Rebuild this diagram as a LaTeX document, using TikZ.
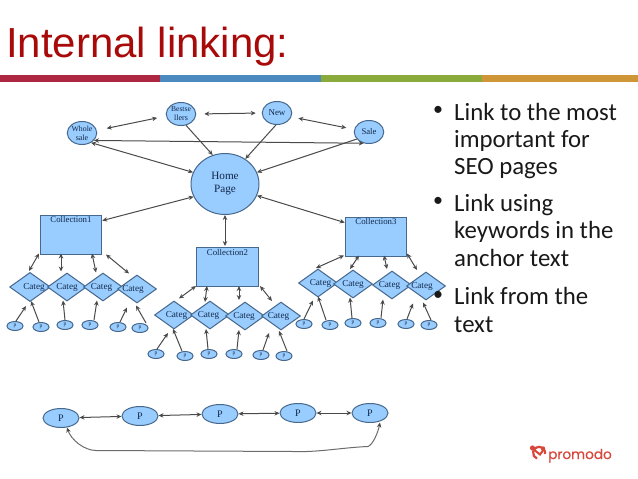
\documentclass[tikz,border=0pt]{standalone}
\usepackage{fontspec}
\setmainfont{Liberation Serif}
\newfontfamily\titlefont{Liberation Sans}
\newfontfamily\bodyfont{Carlito}
\newfontfamily\logofont[FakeBold=0.3]{Poppins}
\usetikzlibrary{shapes.geometric,arrows.meta}
\definecolor{nodefill}{HTML}{99CCFF}
\definecolor{nodeline}{HTML}{46688C}
\definecolor{nodetext}{HTML}{12294A}
\definecolor{arrowgray}{HTML}{4A4A4A}
\definecolor{titlered}{HTML}{A80A0A}
\definecolor{logored}{HTML}{D8473A}
\tikzset{
  base/.style={fill=nodefill,draw=nodeline,line width=1pt,text=nodetext,inner sep=0pt,align=center},
  bigell/.style={base,ellipse,minimum width=29.5pt,minimum height=23pt,font=\fontsize{8}{9}\selectfont},
  collbox/.style={base,rectangle,minimum width=61.5pt,minimum height=39pt},
  colllabel/.style={anchor=north,inner sep=2pt,text=nodetext,font=\fontsize{8.8}{10}\selectfont},
  catbox/.style={base,diamond,shape aspect=1.4,minimum width=39pt,minimum height=28pt,font=\fontsize{9.2}{10}\selectfont},
  smallp/.style={base,ellipse,minimum width=16pt,minimum height=9pt,font=\fontsize{5.5}{6}\selectfont},
  pagep/.style={base,ellipse,minimum width=36pt,minimum height=19pt,font=\fontsize{10}{11}\selectfont},
  both/.style={draw=arrowgray,line width=1pt,{Stealth[length=5pt,width=4.5pt]}-{Stealth[length=5pt,width=4.5pt]}},
  one/.style={draw=arrowgray,line width=1pt,-{Stealth[length=5pt,width=4.5pt]}},
  bullettext/.style={anchor=base west,inner sep=0pt,align=left,text=black!90,font=\bodyfont\fontsize{24.8}{27.2}\selectfont},
  bulletdot/.style={anchor=base west,inner sep=0pt,text=black!90,font=\bodyfont\fontsize{20}{22}\selectfont},
}
\begin{document}
\begin{tikzpicture}[x=1pt,y=-1pt]
\useasboundingbox (0,0) rectangle (638,479);
\fill[white] (0,0) rectangle (638,479);
% title and bar
\node[anchor=base west,inner sep=0pt,text=titlered,font=\titlefont\fontsize{42}{46}\selectfont] (title) at (6,57) {Internal linking:};
\fill[fill={rgb,255:red,174;green,39;blue,66}] (0,75) rectangle (160,81.5);
\fill[fill={rgb,255:red,74;green,138;blue,191}] (160,75) rectangle (321,81.5);
\fill[fill={rgb,255:red,138;green,171;blue,60}] (321,75) rectangle (482,81.5);
\fill[fill={rgb,255:red,206;green,150;blue,55}] (482,75) rectangle (638,81.5);
% top nodes
\node[bigell] (whole) at (82,133) {\fontsize{7.8}{8.8}\selectfont Whole\\sale};
\node[bigell] (best) at (181,114) {\fontsize{7.6}{8.6}\selectfont Bestse\\llers};
\node[bigell] (new) at (277,113) {\fontsize{9}{10}\selectfont New};
\node[bigell] (sale) at (369,132) {\fontsize{8.7}{10}\selectfont Sale};
\node[base,ellipse,minimum width=68pt,minimum height=61pt,font=\fontsize{11.2}{13}\selectfont] (home) at (225,184) {Home\\Page};
% collections
\node[collbox,label={[colllabel]north:Collection1}] (c1) at (71,234.5) {};
\node[collbox,label={[colllabel]north:Collection2}] (c2) at (227.5,267) {};
\node[collbox,label={[colllabel]north:Collection3}] (c3) at (376,236.5) {};
% categories row 1
\node[catbox] (a1) at (30,287) {\hspace*{8pt}Categ};
\node[catbox] (a2) at (67,287) {Categ};
\node[catbox] (a3) at (103,287) {\hspace*{-3pt}Categ};
\node[catbox] (a4) at (137,289) {\hspace*{-8pt}Categ};
% categories row 2
\node[catbox] (e1) at (174,315) {\hspace*{5pt}Categ};
\node[catbox] (e2) at (210,315) {\hspace*{-3pt}Categ};
\node[catbox] (e3) at (245,316) {\hspace*{-2pt}Categ};
\node[catbox] (e4) at (281,316) {\hspace*{-5pt}Categ};
% categories row 3
\node[catbox] (g1) at (318,283) {\hspace*{5pt}Categ};
\node[catbox] (g2) at (353,284) {Categ};
\node[catbox] (g3) at (392,285) {\hspace*{-5pt}Categ};
\node[catbox] (g4) at (426,286) {\hspace*{-8pt}Categ};
% bullets, above the diagram as in the reference
\node[bulletdot] (d1) at (433,115.6) {•};
\node[bullettext] (b1) at (454,174.5) {Link to the most\\important for\\SEO pages};
\node[bulletdot] (d2) at (433,206.6) {•};
\node[bullettext] (b2) at (454,266) {Link using\\keywords in the\\anchor text};
\node[bulletdot] (d3) at (433,300.6) {•};
\node[bullettext] (b3) at (454,332) {Link from the\\text};
% small p, row 1
\node[smallp] (p11) at (15,326) {p};
\node[smallp] (p12) at (41,327) {p};
\node[smallp] (p13) at (65,325) {p};
\node[smallp] (p14) at (90,325) {p};
\node[smallp] (p15) at (118,327) {p};
\node[smallp] (p16) at (140,328) {p};
% small p, row 2
\node[smallp] (p21) at (156,354) {p};
\node[smallp] (p22) at (185,356) {p};
\node[smallp] (p23) at (209,354) {p};
\node[smallp] (p24) at (234,354) {p};
\node[smallp] (p25) at (261,355) {p};
\node[smallp] (p26) at (284,356) {p};
% small p, row 3
\node[smallp] (p31) at (304,324) {p};
\node[smallp] (p32) at (330,325) {p};
\node[smallp] (p33) at (353,323) {p};
\node[smallp] (p34) at (378,323) {p};
\node[smallp] (p35) at (406,324) {p};
\node[smallp] (p36) at (429,325) {p};
% bottom row
\node[pagep] (P1) at (61,418) {P};
\node[pagep] (P2) at (140,416) {P};
\node[pagep] (P3) at (220,414) {P};
\node[pagep] (P4) at (298,413) {P};
\node[pagep] (P5) at (370,413) {P};
% top arrows
\draw[both,shorten <=10pt,shorten >=9pt] (whole.10) -- (best.188);
\draw[both,shorten <=8pt,shorten >=6pt] (best.east) -- (new.west);
\draw[both,shorten <=7pt,shorten >=8pt] (new.-15) -- (sale.170);
\draw[both] (whole.-32) -- (sale.245);
\draw[both] (whole.-47) -- (home.160);
\draw[one] (best.-66) -- (home.113);
\draw[one] (new.-95) -- (home.51);
\draw[one] (sale.210) -- (home.20);
\draw[both] (home.-20) -- (c3.156.5);
\draw[both] (home.202) -- (c1.24);
\draw[both] (home.270) -- ([xshift=-2.5pt,yshift=1pt]c2.north);
% collection 1
\draw[both] ([xshift=-32pt,yshift=1pt]c1.south) -- ([xshift=-1pt,yshift=1pt]a1.north);
\draw[both] ([xshift=-10pt,yshift=1pt]c1.south) -- ([xshift=-6pt,yshift=1pt]a2.north);
\draw[both] ([xshift=21pt,yshift=1pt]c1.south) -- ([xshift=-7pt]a3.north);
\draw[both] ([xshift=35pt]c1.south) -- ([xshift=-8pt,yshift=1pt]a4.north);
% collection 2
\draw[both] ([xshift=-31.5pt,yshift=1pt]c2.south) -- ([xshift=5pt,yshift=2pt]e1.north);
\draw[both] ([xshift=-20.5pt,yshift=1pt]c2.south) -- ([xshift=-5pt,yshift=-1.5pt]e2.north);
\draw[both] ([xshift=11.5pt,yshift=1pt]c2.south) -- ([xshift=-6pt,yshift=1.5pt]e3.north);
\draw[both] ([xshift=32.5pt,yshift=1pt]c2.south) -- ([xshift=-9pt,yshift=.5pt]e4.north);
% collection 3
\draw[both] ([xshift=-32pt,yshift=1pt]c3.south) -- ([xshift=-2pt,yshift=.5pt]g1.north);
\draw[both] ([xshift=-17pt,yshift=1pt]c3.south) -- ([xshift=-3pt,yshift=.5pt]g2.north);
\draw[both] ([xshift=8pt,yshift=1pt]c3.south) -- ([xshift=-5pt,yshift=1.5pt]g3.north);
\draw[both] ([xshift=31pt,yshift=3pt]c3.south) -- ([xshift=-9pt,yshift=1.5pt]g4.north);
% p to categ, row 1
\draw[one] ([xshift=1pt]p11.north) -- ([xshift=-4pt,yshift=-4pt]a1.south);
\draw[one] ([xshift=-2pt]p12.north) -- ([xshift=1pt,yshift=1pt]a1.south);
\draw[one] (p13.north) -- ([xshift=-4pt,yshift=1pt]a2.south);
\draw[one] ([xshift=4pt]p14.north) -- ([xshift=-6pt,yshift=1pt]a3.south);
\draw[one] ([xshift=2pt]p15.north) -- ([xshift=-10pt,yshift=-4pt]a4.south);
\draw[one] ([xshift=6pt]p16.north) -- ([xshift=-1pt,yshift=-2pt]a4.south);
% p to categ, row 2
\draw[one] ([xshift=1pt]p21.north) -- ([xshift=-6pt,yshift=-3.5pt]e1.south);
\draw[one] ([xshift=-3pt]p22.north) -- ([xshift=-1pt,yshift=.5pt]e1.south);
\draw[one] ([xshift=-1pt]p23.north) -- ([xshift=-4pt,yshift=.5pt]e2.south);
\draw[one] ([xshift=3pt]p24.north) -- ([xshift=-6pt,yshift=.5pt]e3.south);
\draw[one] ([xshift=2pt]p25.north) -- ([xshift=-12pt,yshift=-2.5pt]e4.south);
\draw[one] ([xshift=3pt]p26.north) -- ([xshift=-2pt,yshift=-.5pt]e4.south);
% p to categ, row 3
\draw[one] (p31.north) -- ([xshift=-5pt,yshift=-3pt]g1.south);
\draw[one] ([xshift=-4pt]p32.north) -- ([yshift=1pt]g1.south);
\draw[one] ([xshift=-1pt]p33.north) -- ([xshift=-3pt,yshift=1pt]g2.south);
\draw[one] ([xshift=3pt]p34.north) -- ([xshift=-9pt]g3.south);
\draw[one] ([xshift=1pt]p35.north) -- ([xshift=-13pt,yshift=-3pt]g4.south);
\draw[one] ([xshift=2pt]p36.north) -- ([xshift=-3pt,yshift=-2pt]g4.south);
% bottom arrows
\draw[both] (P1) -- (P2);
\draw[both] (P2) -- (P3);
\draw[both] (P3) -- (P4);
\draw[both] (P4) -- (P5);
\draw[draw=gray!85!black,line width=1pt,{Stealth[length=5pt,width=4.5pt,color=arrowgray]}-{Stealth[length=5pt,width=4.5pt,color=arrowgray]}]
  ([xshift=6pt,yshift=.5pt]P1.south) .. controls +(4,12) and +(-12,0) .. ++(29,23)
  -- ++(197,1) .. controls +(25,1) and +(-25,1) .. ++(75,-5)
  .. controls +(5,-2) and +(-2,10) .. ([xshift=10pt,yshift=.5pt]P5.south);
% logo
\node[anchor=base west,inner sep=0pt,text=logored,font=\logofont\fontsize{13.6}{15}\selectfont] (logo) at (548,459) {promodo};
\draw[logored,line width=2.2pt] (545,454) arc[start angle=10,end angle=-250,radius=6];
\fill[logored] (532.5,448) circle (2.6);
\fill[logored] (543,448.5) circle (2.2);
\draw[logored,line width=2pt,line cap=round] (533,449) -- (540,454.5) -- (544,449);
\end{tikzpicture}
\end{document}
